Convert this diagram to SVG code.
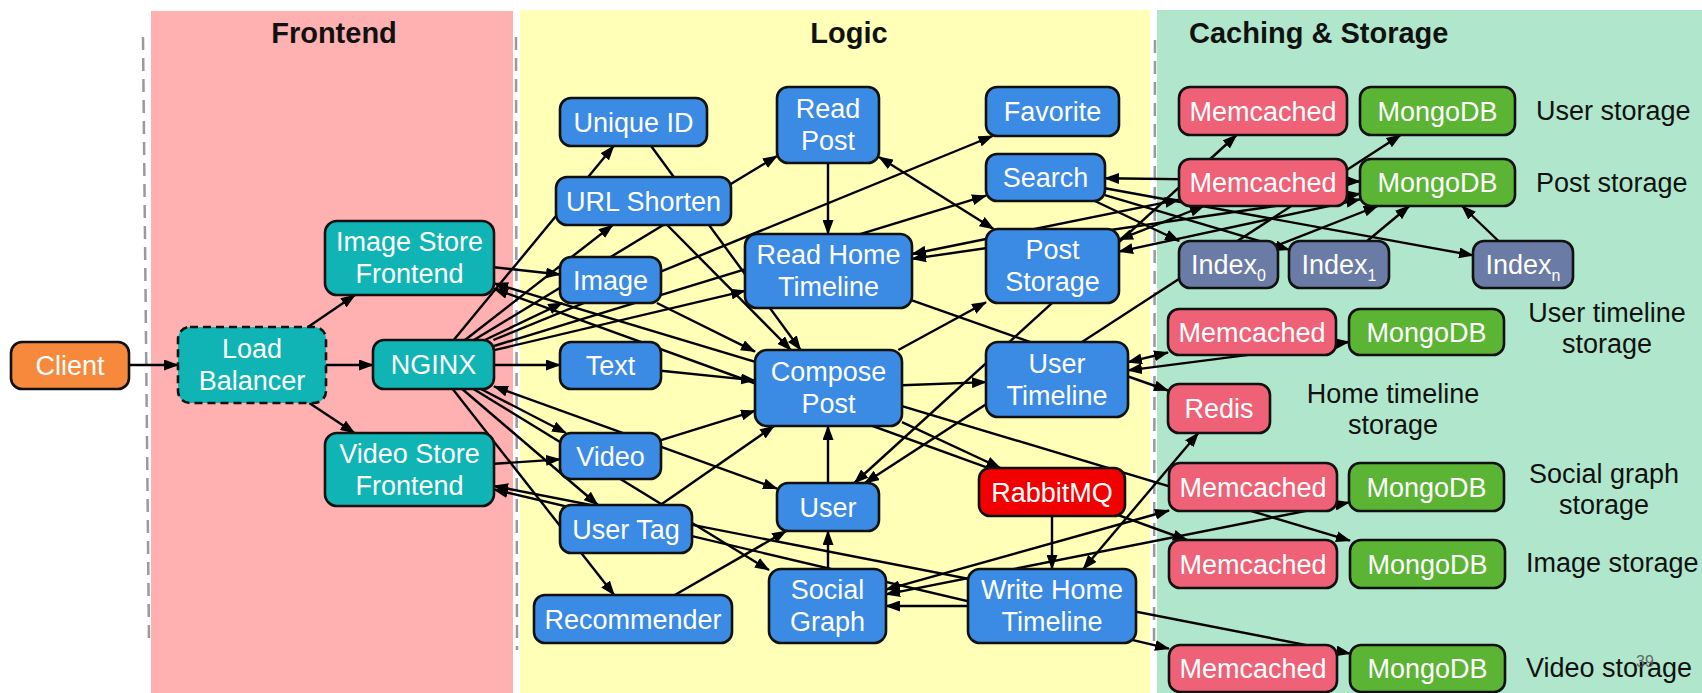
<svg xmlns="http://www.w3.org/2000/svg" width="1702" height="693" viewBox="0 0 1702 693">
<style>
.nd rect{stroke:#111;stroke-width:2.6}
.nd text{font-family:"Liberation Sans",Arial,Helvetica,sans-serif;font-size:27px;fill:#fff;text-anchor:middle}
.lbl{font-family:"Liberation Sans",Arial,Helvetica,sans-serif;font-size:27px;fill:#111}
.ttl{font-family:"Liberation Sans",Arial,Helvetica,sans-serif;font-size:29px;font-weight:bold;fill:#111}
.sep{stroke:#9a9a9a;stroke-width:2.5;stroke-dasharray:13 8;fill:none}
.c line{stroke:#000;stroke-width:2.4;marker-end:url(#ah)}
.c line.b{marker-start:url(#ah)}
.blue{fill:#3B8AE4}.teal{fill:#10B4B5}.org{fill:#F7893C}.mem{fill:#EF6176}.mgo{fill:#5BB434}.idx{fill:#6A7BA6}.red{fill:#F20000}
</style>
<defs>
<marker id="ah" viewBox="0 0 15 11" refX="14" refY="5.5" markerWidth="15" markerHeight="11" markerUnits="userSpaceOnUse" orient="auto-start-reverse"><path d="M0,0 L15,5.5 L0,11 z" fill="#000"/></marker>
</defs>
<rect x="0" y="0" width="1702" height="693" fill="#fff"/>
<rect x="151" y="11" width="362" height="682" fill="#FFB0B0"/>
<rect x="520" y="10" width="630" height="683" fill="#FFFFB7"/>
<rect x="1157" y="10" width="545" height="683" fill="#B0E7CC"/>
<line class="sep" x1="143" y1="37" x2="149" y2="640"/>
<line class="sep" x1="516" y1="37" x2="517" y2="650"/>
<line class="sep" x1="1155" y1="40" x2="1154" y2="643"/>
<text class="ttl" x="334" y="43" text-anchor="middle">Frontend</text>
<text class="ttl" x="849" y="43" text-anchor="middle">Logic</text>
<text class="ttl" x="1189" y="43">Caching &amp; Storage</text>

<g id="connectors" class="c">
<line x1="129" y1="365" x2="178" y2="365"/>
<line x1="326" y1="365" x2="373" y2="365"/>
<line x1="308" y1="327" x2="355" y2="295"/>
<line x1="309.3" y1="403" x2="354.5" y2="433"/>
<line x1="494" y1="267.2" x2="560" y2="274.5"/>
<line x1="494" y1="463.8" x2="560" y2="459.4"/>
<line class="b" x1="494" y1="288.7" x2="1186.9" y2="540"/>
<line class="b" x1="494" y1="283.4" x2="1350" y2="540.7"/>
<line class="b" x1="494" y1="489.4" x2="1169" y2="648.7"/>
<line class="b" x1="494" y1="486" x2="1350" y2="653.6"/>
<line x1="494" y1="365" x2="560" y2="365"/>
<line x1="453.7" y1="340" x2="613.7" y2="146"/>
<line x1="465" y1="340" x2="612.7" y2="225"/>
<line x1="473.9" y1="340" x2="777" y2="156"/>
<line x1="484.8" y1="340" x2="562.3" y2="303"/>
<line x1="493.4" y1="340" x2="992.6" y2="136"/>
<line x1="494" y1="346" x2="986" y2="195.7"/>
<line x1="494" y1="350.2" x2="745" y2="290.8"/>
<line x1="480.9" y1="389" x2="566" y2="433"/>
<line x1="462.2" y1="389" x2="597.9" y2="505"/>
<line x1="452.7" y1="389" x2="614.2" y2="595"/>
<line x1="473.5" y1="389" x2="769" y2="570.1"/>
<line class="b" x1="494" y1="386.4" x2="777" y2="488.6"/>
<line x1="651.1" y1="146" x2="800.6" y2="350"/>
<line x1="667.2" y1="225" x2="790.9" y2="350"/>
<line x1="656.9" y1="303" x2="755" y2="351.6"/>
<line x1="661" y1="370.7" x2="755" y2="380.4"/>
<line x1="661" y1="440.2" x2="755" y2="410.9"/>
<line x1="660.4" y1="505" x2="774" y2="426"/>
<line x1="828" y1="483" x2="828" y2="426"/>
<line x1="828" y1="569" x2="828" y2="531"/>
<line x1="674.8" y1="595" x2="786.2" y2="531"/>
<line x1="902" y1="385.3" x2="986" y2="382.1"/>
<line x1="898.3" y1="350" x2="986" y2="302.2"/>
<line x1="902" y1="422.2" x2="1000.4" y2="468"/>
<line x1="1052" y1="516" x2="1052" y2="569"/>
<line x1="968" y1="606" x2="886" y2="606"/>
<line x1="828" y1="163" x2="828" y2="234"/>
<line class="b" x1="879" y1="157" x2="993.6" y2="229"/>
<line x1="912" y1="300.4" x2="1168" y2="390.5"/>
<line class="b" x1="1083.3" y1="569" x2="1198.3" y2="433"/>
<line class="b" x1="854.4" y1="483" x2="1236.6" y2="135"/>
<line class="b" x1="864.9" y1="483" x2="1400.6" y2="135"/>
<line class="b" x1="1119" y1="239.6" x2="1203.8" y2="206"/>
<line class="b" x1="1119" y1="251.6" x2="1360" y2="199.3"/>
<line class="b" x1="912" y1="254" x2="1179" y2="199.6"/>
<line class="b" x1="912" y1="258.9" x2="1360" y2="193.8"/>
<line class="b" x1="1105" y1="178.3" x2="1360" y2="181.5"/>
<line x1="1094.9" y1="201" x2="1179.1" y2="241"/>
<line x1="1105" y1="195.1" x2="1289" y2="249.7"/>
<line x1="1105" y1="188.3" x2="1473" y2="255.4"/>
<line x1="1278" y1="245.1" x2="1377.6" y2="206"/>
<line x1="1367.2" y1="241" x2="1409.3" y2="206"/>
<line x1="1498.5" y1="241" x2="1462" y2="206"/>
<line class="b" x1="1128" y1="362.2" x2="1168" y2="352.5"/>
<line class="b" x1="1128" y1="370.4" x2="1349" y2="342"/>
<line class="b" x1="886" y1="589.6" x2="1169" y2="510.5"/>
<line class="b" x1="886" y1="594.4" x2="1349" y2="502.4"/>
</g>

<g id="client" class="nd"><rect class="org" x="11" y="342" width="118" height="47" rx="11"/><text x="70" y="375">Client</text></g>
<g id="load-balancer" class="nd"><rect class="teal" x="178" y="327" width="148" height="76" rx="12" style="stroke-dasharray:8 5"/><text x="252"><tspan x="252" y="358">Load</tspan><tspan x="252" y="390">Balancer</tspan></text></g>
<g id="nginx" class="nd"><rect class="teal" x="373" y="340" width="121" height="49" rx="11"/><text x="433.5" y="374">NGINX</text></g>
<g id="image-store-frontend" class="nd"><rect class="teal" x="325" y="221" width="169" height="74" rx="12"/><text><tspan x="409.5" y="251">Image Store</tspan><tspan x="409.5" y="283">Frontend</tspan></text></g>
<g id="video-store-frontend" class="nd"><rect class="teal" x="325" y="433" width="169" height="73" rx="12"/><text><tspan x="409.5" y="463">Video Store</tspan><tspan x="409.5" y="495">Frontend</tspan></text></g>

<g id="unique-id" class="nd"><rect class="blue" x="560" y="98" width="147" height="48" rx="11"/><text x="633.5" y="131.5">Unique ID</text></g>
<g id="read-post" class="nd"><rect class="blue" x="777" y="87" width="102" height="76" rx="11"/><text><tspan x="828" y="118">Read</tspan><tspan x="828" y="150">Post</tspan></text></g>
<g id="favorite" class="nd"><rect class="blue" x="986" y="87" width="133" height="49" rx="11"/><text x="1052.5" y="121">Favorite</text></g>
<g id="search" class="nd"><rect class="blue" x="986" y="154" width="119" height="47" rx="11"/><text x="1045.5" y="187">Search</text></g>
<g id="url-shorten" class="nd"><rect class="blue" x="556" y="177" width="175" height="48" rx="11"/><text x="643.5" y="210.5">URL Shorten</text></g>
<g id="image" class="nd"><rect class="blue" x="560" y="257" width="101" height="46" rx="11"/><text x="610.5" y="289.5">Image</text></g>
<g id="read-home-timeline" class="nd"><rect class="blue" x="745" y="234" width="167" height="74" rx="12"/><text><tspan x="828.5" y="264">Read Home</tspan><tspan x="828.5" y="296">Timeline</tspan></text></g>
<g id="post-storage" class="nd"><rect class="blue" x="986" y="229" width="133" height="74" rx="12"/><text><tspan x="1052.5" y="259">Post</tspan><tspan x="1052.5" y="291">Storage</tspan></text></g>
<g id="text" class="nd"><rect class="blue" x="560" y="342" width="101" height="47" rx="11"/><text x="610.5" y="375">Text</text></g>
<g id="compose-post" class="nd"><rect class="blue" x="755" y="350" width="147" height="76" rx="12"/><text><tspan x="828.5" y="381">Compose</tspan><tspan x="828.5" y="413">Post</tspan></text></g>
<g id="user-timeline" class="nd"><rect class="blue" x="986" y="342" width="142" height="75" rx="12"/><text><tspan x="1057" y="372.5">User</tspan><tspan x="1057" y="404.5">Timeline</tspan></text></g>
<g id="video" class="nd"><rect class="blue" x="560" y="433" width="101" height="46" rx="11"/><text x="610.5" y="465.5">Video</text></g>
<g id="user" class="nd"><rect class="blue" x="777" y="483" width="102" height="48" rx="11"/><text x="828" y="516.5">User</text></g>
<g id="rabbitmq" class="nd"><rect class="red" x="979" y="468" width="146" height="48" rx="11"/><text x="1052" y="501.5">RabbitMQ</text></g>
<g id="user-tag" class="nd"><rect class="blue" x="560" y="505" width="132" height="48" rx="11"/><text x="626" y="538.5">User Tag</text></g>
<g id="recommender" class="nd"><rect class="blue" x="534" y="595" width="198" height="48" rx="11"/><text x="633" y="628.5">Recommender</text></g>
<g id="social-graph" class="nd"><rect class="blue" x="769" y="569" width="117" height="74" rx="12"/><text><tspan x="827.5" y="599">Social</tspan><tspan x="827.5" y="631">Graph</tspan></text></g>
<g id="write-home-timeline" class="nd"><rect class="blue" x="968" y="569" width="168" height="74" rx="12"/><text><tspan x="1052" y="599">Write Home</tspan><tspan x="1052" y="631">Timeline</tspan></text></g>

<g id="memcached-user" class="nd"><rect class="mem" x="1179" y="87" width="168" height="48" rx="11"/><text x="1263" y="120.5">Memcached</text></g>
<g id="mongodb-user" class="nd"><rect class="mgo" x="1360" y="87" width="155" height="48" rx="11"/><text x="1437.5" y="120.5">MongoDB</text></g>
<g id="memcached-post" class="nd"><rect class="mem" x="1179" y="159" width="168" height="47" rx="11"/><text x="1263" y="192">Memcached</text></g>
<g id="mongodb-post" class="nd"><rect class="mgo" x="1360" y="159" width="155" height="47" rx="11"/><text x="1437.5" y="192">MongoDB</text></g>
<g id="index-0" class="nd"><rect class="idx" x="1179" y="241" width="99" height="47" rx="11"/><text x="1228.5" y="274">Index<tspan font-size="16" dy="7">0</tspan></text></g>
<g id="index-1" class="nd"><rect class="idx" x="1289" y="241" width="100" height="47" rx="11"/><text x="1339" y="274">Index<tspan font-size="16" dy="7">1</tspan></text></g>
<g id="index-n" class="nd"><rect class="idx" x="1473" y="241" width="100" height="47" rx="11"/><text x="1523" y="274">Index<tspan font-size="16" dy="7">n</tspan></text></g>
<g id="memcached-user-timeline" class="nd"><rect class="mem" x="1168" y="309" width="168" height="46" rx="11"/><text x="1252" y="341.5">Memcached</text></g>
<g id="mongodb-user-timeline" class="nd"><rect class="mgo" x="1349" y="309" width="155" height="46" rx="11"/><text x="1426.5" y="341.5">MongoDB</text></g>
<g id="redis" class="nd"><rect class="mem" x="1168" y="384" width="102" height="49" rx="11"/><text x="1219" y="418">Redis</text></g>
<g id="memcached-social" class="nd"><rect class="mem" x="1169" y="463" width="168" height="48" rx="11"/><text x="1253" y="496.5">Memcached</text></g>
<g id="mongodb-social" class="nd"><rect class="mgo" x="1349" y="463" width="155" height="48" rx="11"/><text x="1426.5" y="496.5">MongoDB</text></g>
<g id="memcached-image" class="nd"><rect class="mem" x="1169" y="540" width="168" height="48" rx="11"/><text x="1253" y="573.5">Memcached</text></g>
<g id="mongodb-image" class="nd"><rect class="mgo" x="1350" y="540" width="155" height="48" rx="11"/><text x="1427.5" y="573.5">MongoDB</text></g>
<g id="memcached-video" class="nd"><rect class="mem" x="1169" y="645" width="168" height="47" rx="11"/><text x="1253" y="678">Memcached</text></g>
<g id="mongodb-video" class="nd"><rect class="mgo" x="1350" y="645" width="155" height="47" rx="11"/><text x="1427.5" y="678">MongoDB</text></g>

<g id="storage-labels">
<text class="lbl" x="1536" y="120">User storage</text>
<text class="lbl" x="1536" y="192">Post storage</text>
<text class="lbl" x="1607" y="322" text-anchor="middle">User timeline</text>
<text class="lbl" x="1607" y="353" text-anchor="middle">storage</text>
<text class="lbl" x="1393" y="403" text-anchor="middle">Home timeline</text>
<text class="lbl" x="1393" y="434" text-anchor="middle">storage</text>
<text class="lbl" x="1604" y="483" text-anchor="middle">Social graph</text>
<text class="lbl" x="1604" y="514" text-anchor="middle">storage</text>
<text class="lbl" x="1526" y="572">Image storage</text>
<text class="lbl" x="1526" y="677">Video storage</text>
<text x="1645" y="667" text-anchor="middle" style="font-family:'Liberation Sans',Arial,sans-serif;font-size:16px;fill:#555;opacity:0.85">39</text>
</g>
</svg>
